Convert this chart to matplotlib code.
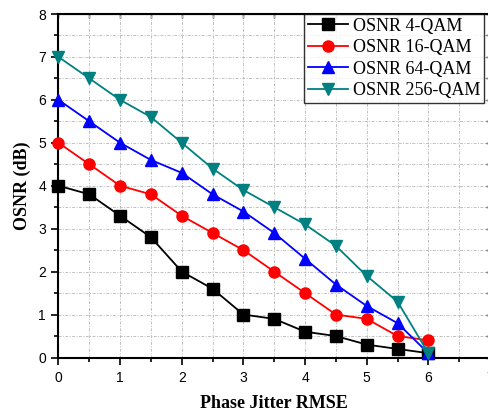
import numpy as np
import matplotlib
matplotlib.use("Agg")
import matplotlib.pyplot as plt
from matplotlib.ticker import MultipleLocator

# Phase jitter RMSE values
jitter = [0, 0.5, 1, 1.5, 2, 2.5, 3, 3.5, 4, 4.5, 5, 5.5, 6]

# OSNR (dB) for each modulation format
osnr_4qam = [4.0, 3.8, 3.3, 2.8, 2.0, 1.6, 1.0, 0.9, 0.6, 0.5, 0.3, 0.2, 0.1]
osnr_16qam = [5.0, 4.5, 4.0, 3.8, 3.3, 2.9, 2.5, 2.0, 1.5, 1.0, 0.9, 0.5, 0.4]
osnr_64qam = [6.0, 5.5, 5.0, 4.6, 4.3, 3.8, 3.4, 2.9, 2.3, 1.7, 1.2, 0.8, 0.1]
osnr_256qam = [7.0, 6.5, 6.0, 5.6, 5.0, 4.4, 3.9, 3.5, 3.1, 2.6, 1.9, 1.3, 0.1]

labels = ["OSNR 4-QAM", "OSNR 16-QAM", "OSNR 64-QAM", "OSNR 256-QAM"]
colors = ["black", "red", "blue", "#008080"]
markers = ["s", "o", "^", "v"]

fig = plt.figure(figsize=(4.89, 4.15), dpi=100)
ax = fig.add_axes([58.5 / 489, 1 - 357.5 / 415, 431.5 / 489, 343.5 / 415])

series = [osnr_4qam, osnr_16qam, osnr_64qam, osnr_256qam]
for vals, lab, col, mk in zip(series, labels, colors, markers):
    ax.plot(jitter, vals, color=col, marker=mk, markersize=8, linewidth=1.3,
            label=lab, clip_on=False, zorder=3)

ax.set_xlim(0, 7)
ax.set_ylim(0, 8)
ax.xaxis.set_major_locator(MultipleLocator(1))
ax.xaxis.set_minor_locator(MultipleLocator(0.5))
ax.yaxis.set_major_locator(MultipleLocator(1))
ax.yaxis.set_minor_locator(MultipleLocator(0.5))

ax.grid(True, which="both", linestyle=(0, (3, 1.5, 1, 1.5)), color="#c0c0c0", linewidth=0.7)

# outward ticks on left/bottom, small inward ticks on top/right
ax.tick_params(which="both", direction="out", width=1.2)
ax.tick_params(which="major", length=5, labelsize=10)
ax.tick_params(which="minor", length=3)
ax.tick_params(axis="x", pad=5)
ax.tick_params(axis="y", pad=4)
ax2 = ax.secondary_xaxis("top")
ax2.xaxis.set_major_locator(MultipleLocator(1))
ax2.xaxis.set_minor_locator(MultipleLocator(0.5))
ax2.tick_params(which="both", direction="in", length=3, width=1.0, labeltop=False)
ay2 = ax.secondary_yaxis("right")
ay2.yaxis.set_major_locator(MultipleLocator(1))
ay2.yaxis.set_minor_locator(MultipleLocator(0.5))
ay2.tick_params(which="both", direction="in", length=3, width=1.0, labelright=False)

for sp in ax.spines.values():
    sp.set_linewidth(1.5)

for t in ax.get_xticklabels() + ax.get_yticklabels():
    t.set_fontfamily("Liberation Sans")

ax.set_xlabel("Phase Jitter RMSE", fontfamily="Liberation Serif", fontweight="bold",
              fontsize=13, labelpad=7)
ax.set_ylabel("OSNR (dB)", fontfamily="Liberation Serif", fontweight="bold",
              fontsize=13, labelpad=5)

leg = ax.legend(loc="upper right", bbox_to_anchor=(0.9865, 1.0),
                prop={"family": "Liberation Serif", "size": 13},
                frameon=True, fancybox=False, edgecolor="black", handlelength=2.2,
                borderpad=0.2, labelspacing=0.25, handletextpad=0.3, borderaxespad=0)
leg.get_frame().set_linewidth(1.0)

fig.savefig("out.png", dpi=100)
